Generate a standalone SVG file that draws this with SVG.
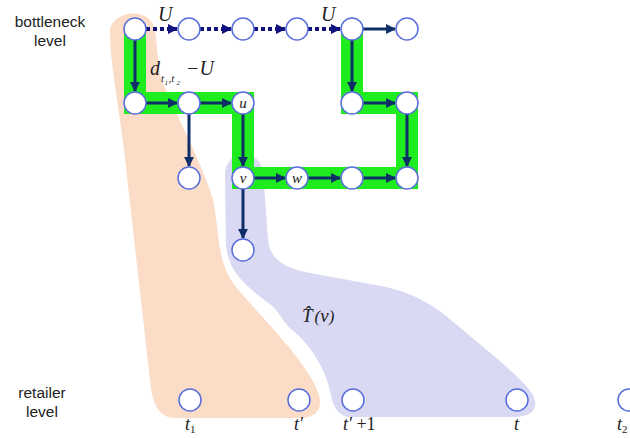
<svg xmlns="http://www.w3.org/2000/svg" width="630" height="438" viewBox="0 0 630 438">
<defs>
<style>
.n{fill:#fff;stroke:#5a6fdc;stroke-width:1.5}
.e{stroke:#0e2f66;stroke-width:3;fill:none;marker-end:url(#ah)}
.d{stroke:#12127e;stroke-width:4;fill:none;stroke-dasharray:4 3;marker-end:url(#ahd)}
.lbl{font-family:"Liberation Sans",Arial,sans-serif;font-size:15.5px;fill:#222;text-anchor:middle}
.m{font-family:"Liberation Serif","Times New Roman",serif;font-style:italic;fill:#222}
</style>
<marker id="ah" viewBox="0 0 10 10" refX="9" refY="5" markerWidth="3.3" markerHeight="3.3" orient="auto" markerUnits="strokeWidth"><path d="M0,0 L10,5 L0,10 Z" fill="#0e2f66"/></marker>
<marker id="ahd" viewBox="0 0 10 10" refX="9" refY="5" markerWidth="2.6" markerHeight="2.6" orient="auto" markerUnits="strokeWidth"><path d="M0,0 L10,5 L0,10 Z" fill="#12127e"/></marker>
</defs>
<rect width="630" height="438" fill="#fff"/>
<g id="regions">
<path d="M110,32 C109,12 150,4 155,30 L160,75 C166,95 206,170 213,200 C220,232 216,262 236,287 C262,318 300,355 315,385 C325,405 320,418 300,418 L175,418 C160,418 152,405 150,380 L124,150 C118,100 110,62 110,32 Z" fill="#fbdcc7"/>
<path d="M225,175 C225,160 236,152 248,155 C262,158 264,170 264,185 L268,240 C270,260 285,268 310,273 L370,284 C400,289 420,296 445,315 C480,345 520,375 533,395 C540,410 530,417 515,417 L352,417 C340,417 334,410 331,395 C326,370 312,346 292,330 C283,322 280,313 271,305 C246,286 228,272 226,245 Z" fill="#d9d9f4"/>
<text class="m" x="302" y="322" font-size="19">T̂<tspan font-size="17" dx="2">(</tspan><tspan>v</tspan><tspan font-size="17">)</tspan></text>
</g>
<g id="highlight">
<path d="M135,29 L135,103 L243,103 L243,178 L407,178 L407,103 L352,103 L352,29" fill="none" stroke="#1fec1f" stroke-width="22" stroke-linejoin="miter" stroke-linecap="butt"/>
</g>
<g id="connectors">
<line class="d" x1="146" y1="29" x2="177" y2="29"/>
<line class="d" x1="200" y1="29" x2="231" y2="29"/>
<line class="d" x1="254" y1="29" x2="285" y2="29"/>
<line class="d" x1="308" y1="29" x2="340" y2="29"/>
<line class="e" x1="363" y1="29" x2="395" y2="29"/>
<line class="e" x1="135" y1="40" x2="135" y2="91"/>
<line class="e" x1="146" y1="103" x2="177" y2="103"/>
<line class="e" x1="200" y1="103" x2="231" y2="103"/>
<line class="e" x1="189" y1="114" x2="189" y2="166"/>
<line class="e" x1="243" y1="114" x2="243" y2="166"/>
<line class="e" x1="254" y1="178" x2="285" y2="178"/>
<line class="e" x1="308" y1="178" x2="340" y2="178"/>
<line class="e" x1="363" y1="178" x2="395" y2="178"/>
<line class="e" x1="243" y1="189" x2="243" y2="238"/>
<line class="e" x1="352" y1="40" x2="352" y2="91"/>
<line class="e" x1="363" y1="103" x2="395" y2="103"/>
<line class="e" x1="407" y1="114" x2="407" y2="166"/>
</g>
<g id="nodes">
<g id="a1"><circle class="n" cx="135" cy="29" r="11"/></g>
<g id="a2"><circle class="n" cx="189" cy="29" r="11"/></g>
<g id="a3"><circle class="n" cx="243" cy="29" r="11"/></g>
<g id="a4"><circle class="n" cx="297" cy="29" r="11"/></g>
<g id="a5"><circle class="n" cx="352" cy="29" r="11"/></g>
<g id="a6"><circle class="n" cx="407" cy="29" r="11"/></g>
<g id="b1"><circle class="n" cx="135" cy="103" r="11"/></g>
<g id="b2"><circle class="n" cx="189" cy="103" r="11"/></g>
<g id="u"><circle class="n" cx="243" cy="103" r="11"/><text class="m" x="243" y="107.5" font-size="15" text-anchor="middle">u</text></g>
<g id="b5"><circle class="n" cx="352" cy="103" r="11"/></g>
<g id="b6"><circle class="n" cx="407" cy="103" r="11"/></g>
<g id="c2"><circle class="n" cx="189" cy="178" r="11"/></g>
<g id="v"><circle class="n" cx="243" cy="178" r="11"/><text class="m" x="243" y="182.5" font-size="15" text-anchor="middle">v</text></g>
<g id="w"><circle class="n" cx="297" cy="178" r="11"/><text class="m" x="297" y="182.5" font-size="15" text-anchor="middle">w</text></g>
<g id="c5"><circle class="n" cx="352" cy="178" r="11"/></g>
<g id="c6"><circle class="n" cx="407" cy="178" r="11"/></g>
<g id="d3"><circle class="n" cx="243" cy="250" r="11"/></g>
<g id="t1"><circle class="n" cx="190" cy="400" r="11"/></g>
<g id="tp"><circle class="n" cx="299" cy="400" r="11"/></g>
<g id="tp1"><circle class="n" cx="353" cy="400" r="11"/></g>
<g id="t"><circle class="n" cx="517" cy="400" r="11"/></g>
<g id="t2"><circle class="n" cx="629" cy="400" r="11"/></g>
</g>
<g id="labels">
<text class="lbl" x="50" y="27">bottleneck</text>
<text class="lbl" x="50" y="46">level</text>
<text class="lbl" x="42" y="398">retailer</text>
<text class="lbl" x="42" y="417">level</text>
<text class="m" x="158" y="21" font-size="20">U</text>
<text class="m" x="321" y="21" font-size="20">U</text>
<text class="m" x="150" y="75" font-size="20">d</text>
<text class="m" x="161" y="82" font-size="11">t</text>
<text class="m" x="164.5" y="85" font-size="7" font-style="normal">1</text>
<text class="m" x="168.5" y="82" font-size="11">,t</text>
<text class="m" x="176.5" y="85" font-size="7" font-style="normal">2</text>
<text class="m" x="186" y="75" font-size="20">−U</text>
<text class="m" x="185" y="430" font-size="18">t<tspan font-size="11" dy="3" font-style="normal">1</tspan></text>
<text class="m" x="294" y="430" font-size="18">t′</text>
<text class="m" x="343" y="430" font-size="18">t′ <tspan font-style="normal">+1</tspan></text>
<text class="m" x="514" y="430" font-size="18">t</text>
<text class="m" x="617" y="430" font-size="18">t<tspan font-size="11" dy="3" font-style="normal">2</tspan></text>
</g>
</svg>
